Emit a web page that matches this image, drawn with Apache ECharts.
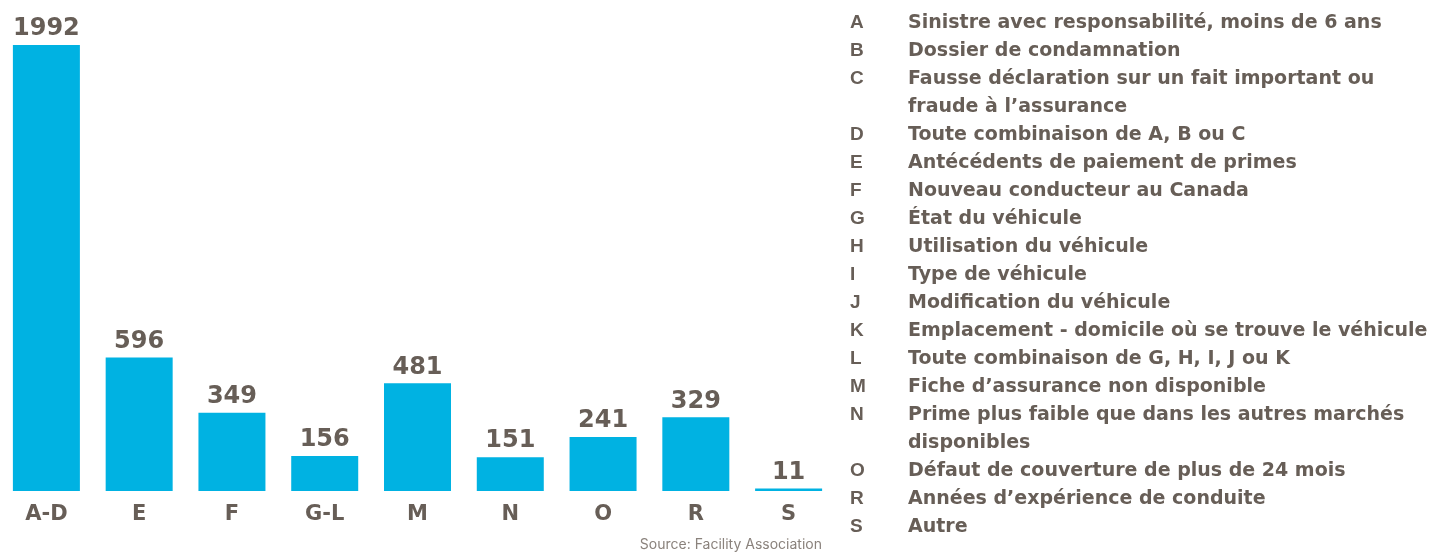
<!DOCTYPE html>
<html>
<head>
<meta charset="utf-8">
<script src="https://cdn.jsdelivr.net/npm/echarts@6/dist/echarts.min.js"></script>
<style>
  html, body { margin: 0; padding: 0; background: #fff; }
  #chart { width: 1452px; height: 552px; }
</style>
</head>
<body>
<div id="chart"></div>
<script>
const categories = ['A-D', 'E', 'F', 'G-L', 'M', 'N', 'O', 'R', 'S']
const values = [1992, 596, 349, 156, 481, 151, 241, 329, 11]

const legendCodes = ['A', 'B', 'C', 'D', 'E', 'F', 'G', 'H', 'I', 'J', 'K', 'L', 'M', 'N', 'O', 'R', 'S']
const legendLabels = [
  ['Sinistre avec responsabilité, moins de 6 ans'],
  ['Dossier de condamnation'],
  ['Fausse déclaration sur un fait important ou', 'fraude à l’assurance'],
  ['Toute combinaison de A, B ou C'],
  ['Antécédents de paiement de primes'],
  ['Nouveau conducteur au Canada'],
  ['État du véhicule'],
  ['Utilisation du véhicule'],
  ['Type de véhicule'],
  ['Modification du véhicule'],
  ['Emplacement - domicile où se trouve le véhicule'],
  ['Toute combinaison de G, H, I, J ou K'],
  ['Fiche d’assurance non disponible'],
  ['Prime plus faible que dans les autres marchés', 'disponibles'],
  ['Défaut de couverture de plus de 24 mois'],
  ['Années d’expérience de conduite'],
  ['Autre']
]
const sourceText = 'Source: Facility Association'

const textColor = '#675e57'
const barColor = '#00b2e2'
const font = '"DejaVu Sans", sans-serif'

const chart = echarts.init(document.getElementById('chart'), null, { renderer: 'canvas' })

// légende à droite, une ligne = 28px
const graphics = []
let line = 0
legendCodes.forEach((code, i) => {
  const y = 23 + line * 28
  graphics.push({
    type: 'text', x: 850, y: y,
    style: {
      text: code, fill: textColor, verticalAlign: 'middle',
      font: 'bold 19px "Liberation Sans", Arial, sans-serif'
    }
  })
  graphics.push({
    type: 'text', x: 908, y: y - 14,
    style: {
      text: legendLabels[i].join('\n'), fill: textColor, verticalAlign: 'top',
      font: 'bold 19px ' + font, lineHeight: 28
    }
  })
  line += legendLabels[i].length
})
graphics.push({
  type: 'text', x: 822, y: 545,
  style: {
    text: sourceText, fill: '#8a827c', align: 'right', verticalAlign: 'middle',
    font: '14px Inter, sans-serif'
  }
})

const option = {
  animation: false,
  grid: { left: 0, right: 617, top: 45, bottom: 61 },
  xAxis: {
    type: 'category',
    data: categories,
    axisLine: { show: false },
    axisTick: { show: false },
    axisLabel: {
      color: textColor, fontFamily: font, fontWeight: 'bold', fontSize: 21, margin: 13
    }
  },
  yAxis: {
    type: 'value', min: 0, max: 1992,
    show: false,
    splitLine: { show: false }
  },
  series: [{
    type: 'bar',
    data: values,
    barWidth: 67,
    itemStyle: { color: barColor },
    label: {
      show: true, position: 'top', distance: 4,
      color: textColor, fontFamily: font, fontWeight: 'bold', fontSize: 24
    }
  }],
  graphic: graphics
}

chart.setOption(option)
</script>
</body>
</html>
